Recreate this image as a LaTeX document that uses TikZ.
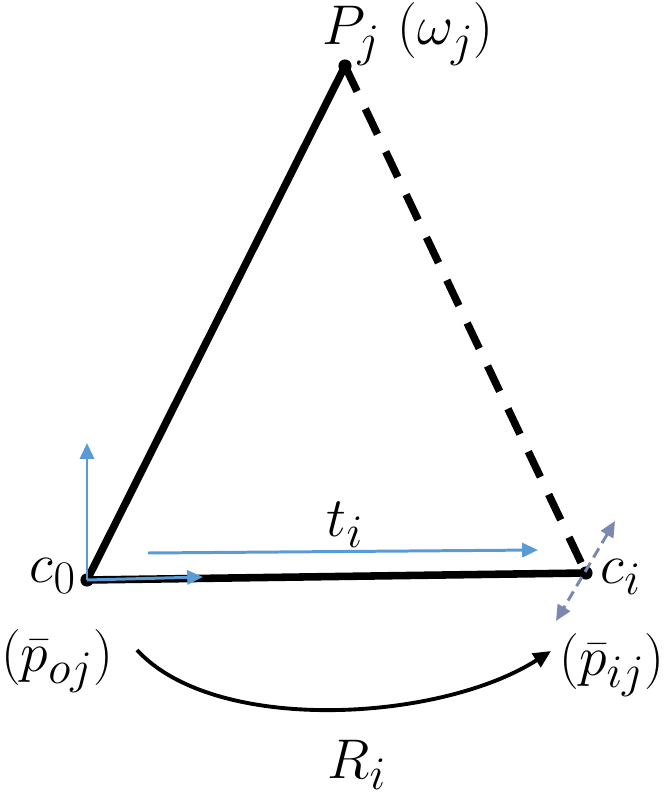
\documentclass[tikz,border=0pt]{standalone}
\usetikzlibrary{arrows.meta}
\definecolor{bluea}{RGB}{91,155,213}
\definecolor{greyb}{RGB}{122,136,178}
\begin{document}
\begin{tikzpicture}[x=0.02cm,y=-0.02cm,
  lbl/.style={inner sep=0pt,font=\Huge,scale=1.28},
  thickline/.style={line width=4.3pt,line cap=round},
  bluearrow/.style={draw=bluea,line width=1.7pt,-{Triangle[length=9pt,width=8pt]}},
  dotpt/.style={circle,fill=black,inner sep=0pt,minimum size=7.5pt}]
\useasboundingbox (0,0) rectangle (667,797);
\node[dotpt] (Pj) at (345,66) {};
\node[dotpt] (c0) at (87,580) {};
\node[dotpt] (ci) at (586,573) {};
\draw[thickline] (c0.center) -- (Pj.center);
\draw[thickline] (c0.center) -- (ci.center);
\draw[line width=4.3pt,dash pattern=on 16pt off 11pt] (Pj.center) -- (ci.center);
\coordinate (ya) at (87,443);
\coordinate (xa) at (203,577);
\draw[bluearrow] (c0.center) -- (ya);
\draw[bluearrow] (c0.center) -- (xa);
\coordinate (ts) at (148,553);
\coordinate (te) at (538,550);
\draw[bluearrow] (ts) -- (te);
\coordinate (ga) at (615,521);
\coordinate (gb) at (556,621);
\draw[greyb,line width=1.7pt,dash pattern=on 6pt off 3.5pt,{Triangle[length=9pt,width=8pt]}-{Triangle[length=9pt,width=8pt]}] (ga) -- (gb);
\node[lbl] (lPj) at (408,34) {$P_j\ (\omega_j)$};
\node[lbl] (lc0) at (53,576) {$c_0$};
\node[lbl] (lci) at (621,577) {$c_i$};
\node[lbl] (lti) at (345,525) {$t_i$};
\node[lbl] (lpo) at (57,661) {$(\bar p_{oj})$};
\node[lbl] (lpi) at (612,665) {$(\bar p_{ij})$};
\node[lbl] (lRi) at (357,765) {$R_i$};
\coordinate (ra) at (137,650);
\coordinate (rb) at (551,651);
\draw[line width=2.2pt,-{Triangle[length=10pt,width=9pt]}] (ra) .. controls (215,735) and (440,722) .. (rb);
\end{tikzpicture}
\end{document}
